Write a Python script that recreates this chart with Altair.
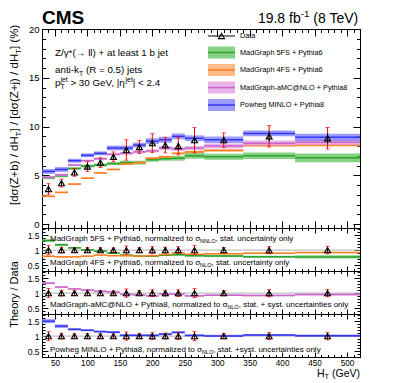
import altair as alt
import pandas as pd

# ------------------------------------------------------------------ data
bin_lo = [30, 50, 70, 90, 110, 130, 150, 170, 190, 210, 230, 250, 280, 340, 420]
bin_hi = [50, 70, 90, 110, 130, 150, 170, 190, 210, 230, 250, 280, 340, 420, 520]
data_val = [3.6, 4.2, 5.3, 5.9, 6.3, 6.9, 7.6, 7.9, 8.3, 8.1, 8.0, 8.6, 8.6, 9.0, 8.8]
data_tot = [0.55, 0.4, 0.4, 0.5, 0.5, 0.5, 1.05, 0.67, 0.97, 0.8, 0.9, 1.3, 0.75, 1.1, 1.1]
data_stat = [0.2, 0.2, 0.2, 0.25, 0.25, 0.25, 0.3, 0.3, 0.35, 0.35, 0.35, 0.4, 0.35, 0.5, 0.5]
mg5fs_val = [4.75, 4.95, 5.7, 5.95, 6.05, 6.2, 6.3, 6.3, 6.6, 6.7, 6.75, 7.0, 6.9, 7.0, 6.8]
mg5fs_err = [0.15, 0.15, 0.12, 0.15, 0.15, 0.15, 0.2, 0.2, 0.2, 0.2, 0.25, 0.3, 0.3, 0.33, 0.45]
mg4fs_val = [2.85, 3.25, 4.1, 4.7, 5.25, 5.6, 6.15, 6.3, 6.75, 6.9, 7.25, 7.4, 7.55, 8.05, 8.1]
mg4fs_err = [0.08, 0.08, 0.08, 0.08, 0.08, 0.08, 0.08, 0.1, 0.1, 0.1, 0.1, 0.12, 0.12, 0.12, 0.15]
amc_val = [4.8, 5.05, 6.05, 6.5, 6.7, 7.15, 7.25, 7.4, 7.5, 7.8, 7.7, 7.8, 8.0, 8.3, 8.4]
amc_err = [0.12, 0.12, 0.12, 0.12, 0.12, 0.12, 0.15, 0.15, 0.15, 0.2, 0.2, 0.2, 0.25, 0.27, 0.3]
powheg_val = [5.4, 5.6, 6.5, 7.05, 7.25, 7.8, 7.8, 8.1, 8.5, 8.65, 9.0, 8.8, 8.65, 9.3, 8.9]
powheg_err = [0.25, 0.25, 0.2, 0.2, 0.2, 0.25, 0.25, 0.25, 0.3, 0.3, 0.3, 0.3, 0.33, 0.3, 0.37]

series_names = ["MadGraph 5FS + Pythia6", "MadGraph 4FS + Pythia6",
                "MadGraph-aMC@NLO + Pythia8", "Powheg MINLO + Pythia8"]
series_keys = ["mg5", "mg4", "amc", "pow"]
series_fill = ["#5cc35c", "#ffa560", "#e09ae0", "#7b7bff"]
series_line = ["#2ea02e", "#ff7a1a", "#c865c8", "#3535f0"]

x_major = [50, 100, 150, 200, 250, 300, 350, 400, 450, 500]
x_minor = list(range(30, 521, 10))
y_main_major = [0, 5, 10, 15, 20]
y_main_minor = list(range(0, 21))
y_ratio_major = [0.5, 1, 1.5]
y_ratio_minor = [0.3, 0.4, 0.5, 0.6, 0.7, 0.8, 0.9, 1.0, 1.1, 1.2, 1.3, 1.4, 1.5, 1.6, 1.7]

FONT = "Liberation Sans"
W = 318
H_MAIN = 199
H_R = 43

# ------------------------------------------------------------------ table
df = pd.DataFrame({"lo": bin_lo, "hi": bin_hi, "data": data_val,
                   "tot": data_tot, "stat": data_stat})
df["c"] = (df["lo"] + df["hi"]) / 2
df["one"] = 1.0
df["tot_lo"] = df["data"] - df["tot"]
df["tot_hi"] = df["data"] + df["tot"]
df["stat_lo"] = df["data"] - df["stat"]
df["stat_hi"] = df["data"] + df["stat"]
df["rtot_lo"] = 1 - df["tot"] / df["data"]
df["rtot_hi"] = 1 + df["tot"] / df["data"]
df["rstat_lo"] = 1 - df["stat"] / df["data"]
df["rstat_hi"] = 1 + df["stat"] / df["data"]
for key, v, e in zip(series_keys, [mg5fs_val, mg4fs_val, amc_val, powheg_val],
                     [mg5fs_err, mg4fs_err, amc_err, powheg_err]):
    v = pd.Series(v)
    e = pd.Series(e)
    df[key] = v
    df[key + "_lo"] = v - e
    df[key + "_hi"] = v + e
    df[key + "_r"] = v / df["data"]
    df[key + "_rlo"] = (v - e) / df["data"]
    df[key + "_rhi"] = (v + e) / df["data"]

ONE = pd.DataFrame({"k": [0]})
xsc = alt.Scale(domain=[30, 520], nice=False, zero=False)
ysc_main = alt.Scale(domain=[-0.4, 20], nice=False, zero=False)
ysc_r = alt.Scale(domain=[0.3, 1.74], nice=False, zero=False)

# ------------------------------------------------------------------ text helpers
AW = {' ': 278, '!': 278, '#': 556, '%': 889, '(': 333, ')': 333, '*': 389, '+': 584,
      ',': 278, '-': 333, '.': 278, '/': 278, ':': 278, '<': 584, '=': 584, '>': 584,
      '@': 1015, '[': 278, ']': 278, '|': 260, 'σ': 600, 'γ': 500, 'η': 556, '→': 1000,
      'A': 667, 'B': 667, 'C': 722, 'D': 722, 'E': 667, 'F': 611, 'G': 778, 'H': 722,
      'I': 278, 'J': 500, 'K': 667, 'L': 556, 'M': 833, 'N': 722, 'O': 778, 'P': 667,
      'Q': 778, 'R': 722, 'S': 667, 'T': 611, 'U': 722, 'V': 667, 'W': 944, 'X': 667,
      'Y': 667, 'Z': 611, 'a': 556, 'b': 556, 'c': 500, 'd': 556, 'e': 556, 'f': 278,
      'g': 556, 'h': 556, 'i': 222, 'j': 222, 'k': 500, 'l': 222, 'm': 833, 'n': 556,
      'o': 556, 'p': 556, 'q': 556, 'r': 333, 's': 500, 't': 278, 'u': 556, 'v': 500,
      'w': 722, 'x': 500, 'y': 500, 'z': 500}


def tw(s, size):
    return sum(AW.get(ch, 556) for ch in s) * size / 1000.0


def rich(pieces, x0, y0, size, angle=0, align="left", weight="normal"):
    def psize(k):
        return size if k == "n" else size * 0.7
    total = sum(tw(t, psize(k)) for t, k in pieces if not k.endswith("0"))
    adv = -total if align == "right" else (-total / 2 if align == "center" else 0)
    out = []
    for t, k in pieces:
        s = psize(k)
        sh = 0.0
        if k.startswith("sub"):
            sh = 0.28 * size
        elif k.startswith("sup"):
            sh = -0.4 * size
        stripped = t.lstrip(" ")
        lead = tw(t[:len(t) - len(stripped)], s)
        pos = adv + lead
        if angle == 270:
            x, y = x0 + sh, y0 - pos
        else:
            x, y = x0 + pos, y0 + sh
        out.append(alt.Chart(ONE).mark_text(
            text=stripped, align="left", baseline="alphabetic",
            font=FONT, fontSize=s, fontWeight=weight, angle=angle, color="black"
        ).encode(x=alt.value(x), y=alt.value(y)))
        if not k.endswith("0"):
            adv += tw(t, s)
    return out


def axis_layers(ysc, ymaj, ymin, show_xlabels, xt, yt, yfmt, ylabsize):
    dummy = pd.DataFrame({"ax": [100.0], "ay": [float(ymaj[1])]})
    out = []
    for ox, oy, xv, yv, tx, ty, lab in [
        ("bottom", "left", x_major, ymaj, xt[0], yt[0], True),
        ("bottom", "left", x_minor, ymin, xt[1], yt[1], False),
        ("top", "right", x_major, ymaj, xt[0], yt[0], False),
        ("top", "right", x_minor, ymin, xt[1], yt[1], False),
    ]:
        xa = alt.Axis(orient=ox, values=xv, tickSize=tx, offset=-tx, domain=False,
                      grid=False, labels=(lab and show_xlabels), title=None,
                      tickColor="black", tickWidth=1, labelFont=FONT, labelFontSize=8.2,
                      labelColor="black", labelPadding=2, format="d")
        ya = alt.Axis(orient=oy, values=yv, tickSize=ty, offset=-ty, domain=False,
                      grid=False, labels=lab, title=None, tickColor="black", tickWidth=1,
                      labelFont=FONT, labelFontSize=ylabsize, labelColor="black",
                      labelPadding=3, format=yfmt)
        out.append(alt.Chart(dummy).mark_point(opacity=0).encode(
            x=alt.X("ax:Q", scale=xsc, axis=xa),
            y=alt.Y("ay:Q", scale=ysc, axis=ya)))
    return out


def band(lo, hi, c, fill, line, ysc):
    rect = alt.Chart(df).mark_rect(color=fill, opacity=0.75).encode(
        x=alt.X("lo:Q", scale=xsc, axis=None), x2="hi:Q",
        y=alt.Y(lo + ":Q", scale=ysc, axis=None), y2=hi + ":Q")
    rule = alt.Chart(df).mark_rule(color=line, strokeWidth=1.5).encode(
        x=alt.X("lo:Q", scale=xsc, axis=None), x2="hi:Q",
        y=alt.Y(c + ":Q", scale=ysc, axis=None))
    return [rect, rule]


def data_marks(tlo, thi, slo, shi, yc, ysc):
    base = alt.Chart(df)
    X = alt.X("c:Q", scale=xsc, axis=None)
    red = base.mark_rule(color="#ff0000", strokeWidth=1).encode(
        x=X, y=alt.Y(tlo + ":Q", scale=ysc, axis=None), y2=thi + ":Q")
    cap1 = base.mark_tick(color="#ff0000", orient="horizontal", size=4, thickness=1).encode(
        x=X, y=alt.Y(tlo + ":Q", scale=ysc, axis=None))
    cap2 = base.mark_tick(color="#ff0000", orient="horizontal", size=4, thickness=1).encode(
        x=X, y=alt.Y(thi + ":Q", scale=ysc, axis=None))
    blk = base.mark_rule(color="black", strokeWidth=1.2).encode(
        x=X, y=alt.Y(slo + ":Q", scale=ysc, axis=None), y2=shi + ":Q")
    tri = base.mark_point(shape="triangle-up", filled=False, color="black", size=36,
                          strokeWidth=1.1, opacity=1).encode(
        x=X, y=alt.Y(yc + ":Q", scale=ysc, axis=None))
    return [red, cap1, cap2, blk, tri]


def unity_line(ysc):
    return alt.Chart(pd.DataFrame({"a": [30], "b": [520], "u": [1.0]})).mark_rule(
        color="#b0b0b0", strokeWidth=1).encode(
        x=alt.X("a:Q", scale=xsc, axis=None), x2="b:Q",
        y=alt.Y("u:Q", scale=ysc, axis=None))


# ------------------------------------------------------------------ main panel
main_layers = axis_layers(ysc_main, y_main_major, y_main_minor, False, (7, 3.5), (7, 3.5), "d", 9.5)
for i, key in enumerate(series_keys):
    main_layers += band(key + "_lo", key + "_hi", key, series_fill[i], series_line[i], ysc_main)
main_layers += data_marks("tot_lo", "tot_hi", "stat_lo", "stat_hi", "data", ysc_main)

# header texts
main_layers.append(alt.Chart(ONE).mark_text(
    text="CMS", align="left", baseline="alphabetic", font=FONT, fontSize=19,
    fontWeight="bold", color="black").encode(x=alt.value(0), y=alt.value(-5)))
main_layers += rich([("19.8 fb", "n"), ("-1", "sup"), (" (8 TeV)", "n")], W, -6.5, 14, align="right")

# physics annotation
main_layers += rich([("Z/γ*(→ ll) + at least 1 b jet", "n")], 13, 27, 9.8)
main_layers += rich([("anti-k", "n"), ("T", "sub"), (" (R = 0.5) jets", "n")], 13, 44, 9.8)
main_layers += rich([("p", "n"), ("T", "sub0"), ("jet", "sup"), (" > 30 GeV, |η", "n"),
                     ("jet", "sup"), ("| < 2.4", "n")], 13, 57, 9.8)

# y title (rotated)
main_layers += rich([("[dσ(Z+b) / dH", "n"), ("T", "sub"), ("] / [dσ(Z+j) / dH", "n"),
                     ("T", "sub"), ("] (%)", "n")], -24, 176, 11.5, angle=270)

# legend
leg_y = [23.5, 41, 58.5, 76.0]
lx1, lx2, ltx = 166, 193, 198
main_layers.append(alt.Chart(ONE).mark_rule(color="black", strokeWidth=1).encode(
    x=alt.value(lx1), x2=alt.value(lx2), y=alt.value(7)))
main_layers.append(alt.Chart(ONE).mark_point(shape="triangle-up", filled=False, color="black",
                                             size=36, strokeWidth=1.1, opacity=1).encode(
    x=alt.value((lx1 + lx2) / 2), y=alt.value(7)))
main_layers.append(alt.Chart(ONE).mark_text(text="Data", align="left", baseline="middle",
                                            font=FONT, fontSize=7.3, color="black").encode(
    x=alt.value(ltx), y=alt.value(7)))
for i, name in enumerate(series_names):
    yy = leg_y[i]
    main_layers.append(alt.Chart(ONE).mark_rect(color=series_fill[i], opacity=0.75).encode(
        x=alt.value(lx1), x2=alt.value(lx2), y=alt.value(yy - 6), y2=alt.value(yy + 6)))
    main_layers.append(alt.Chart(ONE).mark_rule(color=series_line[i], strokeWidth=1.5).encode(
        x=alt.value(lx1), x2=alt.value(lx2), y=alt.value(yy)))
    main_layers.append(alt.Chart(ONE).mark_text(text=name, align="left", baseline="middle",
                                                font=FONT, fontSize=7.3, color="black").encode(
        x=alt.value(ltx), y=alt.value(yy)))

main = alt.layer(*main_layers).properties(width=W, height=H_MAIN).resolve_axis(
    x="independent", y="independent")


# ------------------------------------------------------------------ ratio panels
def ratio_panel(keys, labels, last=False, ytitle=False):
    layers = axis_layers(ysc_r, y_ratio_major, y_ratio_minor, last, (5, 2.5), (6, 3), "~g", 8.5)
    layers.append(unity_line(ysc_r))
    for key in keys:
        i = series_keys.index(key)
        layers += band(key + "_rlo", key + "_rhi", key + "_r", series_fill[i], series_line[i], ysc_r)
    layers += data_marks("rtot_lo", "rtot_hi", "rstat_lo", "rstat_hi", "one", ysc_r)
    for pieces, yb in labels:
        layers += rich(pieces, 8, yb, 8)
    if ytitle:
        layers.append(alt.Chart(ONE).mark_text(
            text="Theory / Data", align="center", baseline="alphabetic", font=FONT,
            fontSize=11, angle=270, color="black").encode(
            x=alt.value(-24), y=alt.value(H_R / 2 + 2)))
    if last:
        layers += rich([("H", "n"), ("T", "sub"), (" (GeV)", "n")], W, H_R + 19.5, 10.5, align="right")
    return alt.layer(*layers).properties(width=W, height=H_R).resolve_axis(
        x="independent", y="independent")


r1 = ratio_panel(["mg5", "mg4"], [
    ([("MadGraph 5FS + Pythia6, normalized to σ", "n"), ("NNLO", "sub"),
      (", stat. uncertainty only", "n")], 13),
    ([("MadGraph 4FS + Pythia6, normalized to σ", "n"), ("NLO", "sub"),
      (", stat. uncertainty only", "n")], 37),
])
r2 = ratio_panel(["amc"], [
    ([("MadGraph-aMC@NLO + Pythia8, normalized to σ", "n"), ("NLO", "sub"),
      (", stat. + syst. uncertainties only", "n")], 36),
], ytitle=True)
r3 = ratio_panel(["pow"], [
    ([("Powheg MINLO + Pythia8, normalized to σ", "n"), ("NLO", "sub"),
      (", stat. +syst. uncertainties only", "n")], 38),
], last=True)

chart = alt.vconcat(main, r1, r2, r3, spacing=0, bounds="flush").properties(
    padding={"left": 0, "top": 0, "right": 4, "bottom": 0},
    background="white",
).configure_view(stroke="black", strokeWidth=1)

chart.save("out.html", embed_options={"renderer": "svg", "actions": False})
